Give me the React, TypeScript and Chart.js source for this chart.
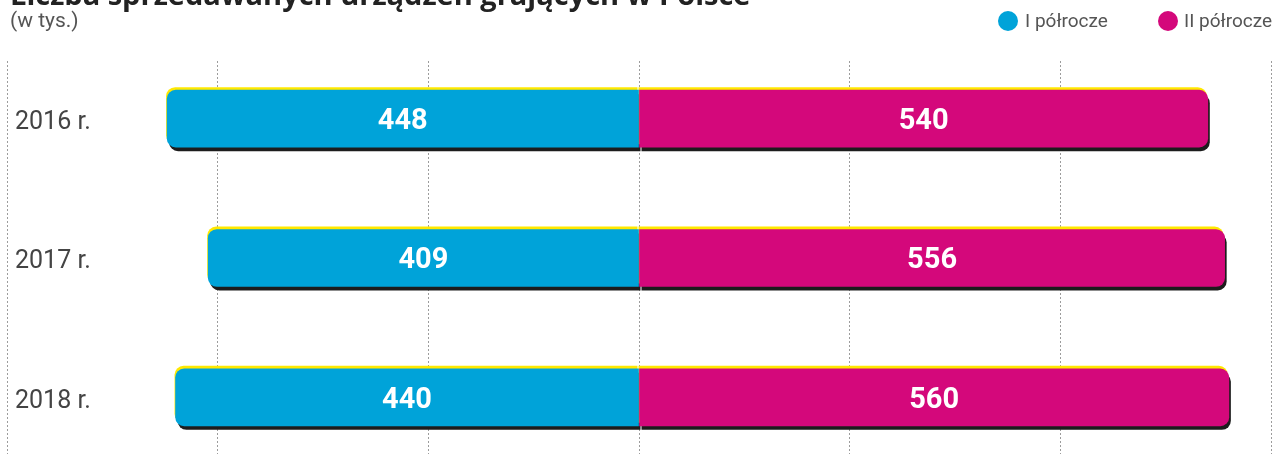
import React, { useEffect, useRef } from "react";
import { Chart, registerables } from "chart.js";

Chart.register(...registerables);

const categories = ["2016 r.", "2017 r.", "2018 r."];
const seriesNames = ["I półrocze", "II półrocze"];
const firstHalf = [448, 409, 440];
const secondHalf = [540, 556, 560];
const xMin = -600;
const xMax = 600;
const xStep = 200;

const BLUE = "#00A3D9";
const MAGENTA = "#D4087B";
const YELLOW = "#FFE800";
const SHADOW = "#1c1c1c";
const FONT = "Roboto, 'Noto Sans', sans-serif";

const edgePlugin = {
  id: "barEdges",
  beforeDatasetsDraw(chart: any) {
    const { ctx, chartArea } = chart;
    ctx.save();
    // gridlines begin a little below the top of the plot
    ctx.fillStyle = "#ffffff";
    ctx.fillRect(chartArea.left - 2, chartArea.top - 1, chartArea.width + 4, 11);
    const boxes: any[] = [];
    chart.data.datasets.forEach((_ds: any, i: number) => {
      const meta = chart.getDatasetMeta(i);
      meta.data.forEach((el: any) => {
        const { x, y, base, height } = el.getProps(["x", "y", "base", "height"], true);
        const left = Math.min(x, base);
        const right = Math.max(x, base);
        const neg = x < base;
        const r = 9;
        boxes.push({
          left,
          w: right - left,
          top: y - height / 2,
          h: height,
          radii: neg ? [r, 0, 0, r] : [0, r, r, 0],
        });
      });
    });
    ctx.fillStyle = SHADOW;
    boxes.forEach((b) => {
      ctx.beginPath();
      ctx.roundRect(b.left + 2, b.top + 4, b.w, b.h, b.radii);
      ctx.fill();
    });
    ctx.fillStyle = YELLOW;
    boxes.forEach((b) => {
      ctx.beginPath();
      ctx.roundRect(b.left - 1, b.top - 3, b.w, b.h, b.radii);
      ctx.fill();
    });
    ctx.restore();
  },
  afterDatasetsDraw(chart: any) {
    const { ctx } = chart;
    ctx.save();
    ctx.fillStyle = "#ffffff";
    ctx.font = `bold 29px ${FONT}`;
    ctx.textAlign = "center";
    ctx.textBaseline = "middle";
    chart.data.datasets.forEach((ds: any, i: number) => {
      const meta = chart.getDatasetMeta(i);
      meta.data.forEach((el: any, j: number) => {
        const { x, y, base } = el.getProps(["x", "y", "base"], true);
        ctx.fillText(String(Math.abs(ds.data[j])), (x + base) / 2, y + 3);
      });
    });
    ctx.restore();
  },
};

export default function App() {
  const ref = useRef<HTMLCanvasElement | null>(null);

  useEffect(() => {
    if (!ref.current) return;
    const chart = new Chart(ref.current, {
      type: "bar",
      data: {
        labels: categories,
        datasets: [
          {
            label: seriesNames[0],
            data: firstHalf.map((v) => -v),
            backgroundColor: BLUE,
            borderSkipped: false,
            borderRadius: { topLeft: 9, bottomLeft: 9, topRight: 0, bottomRight: 0 },
            barThickness: 57,
          },
          {
            label: seriesNames[1],
            data: secondHalf,
            backgroundColor: MAGENTA,
            borderSkipped: false,
            borderRadius: { topLeft: 0, bottomLeft: 0, topRight: 9, bottomRight: 9 },
            barThickness: 57,
          },
        ],
      },
      options: {
        indexAxis: "y",
        animation: false,
        responsive: false,
        layout: { padding: { top: 49, bottom: 3, left: 7, right: 4 } },
        plugins: {
          legend: { display: false },
          tooltip: { enabled: false },
        },
        scales: {
          x: {
            type: "linear",
            stacked: true,
            min: xMin,
            max: xMax,
            ticks: { display: false, stepSize: xStep },
            grid: { color: "#9c9c9c", lineWidth: 1, drawTicks: false },
            border: { display: false, dash: [2, 2] },
            afterFit(scale: any) {
              scale.height = 0;
              scale.paddingLeft = 0;
              scale.paddingRight = 0;
            },
          },
          y: {
            type: "category",
            stacked: true,
            offset: true,
            grid: { display: false, drawTicks: false },
            border: { display: false },
            ticks: {
              mirror: true,
              padding: 8,
              labelOffset: 4,
              color: "#444444",
              font: { family: FONT, size: 25 },
            },
            afterFit(scale: any) {
              scale.width = 0;
              scale.paddingTop = 0;
              scale.paddingBottom = 0;
            },
          },
        },
      },
      plugins: [edgePlugin],
    } as any);
    return () => chart.destroy();
  }, []);

  const legendText: React.CSSProperties = {
    position: "absolute",
    top: 10,
    fontFamily: FONT,
    fontSize: 19,
    lineHeight: "22px",
    color: "#555555",
    whiteSpace: "nowrap",
  };
  const dot = (left: number, color: string): React.CSSProperties => ({
    position: "absolute",
    left,
    top: 11,
    width: 20,
    height: 20,
    borderRadius: "50%",
    background: color,
  });

  return (
    <div
      style={{
        position: "absolute",
        left: 0,
        top: 0,
        width: 1275,
        height: 454,
        overflow: "hidden",
        background: "#ffffff",
      }}
    >
      <canvas ref={ref} width={1275} height={470} style={{ position: "absolute", left: 0, top: 0 }} />
      <div
        style={{
          position: "absolute",
          left: 10,
          top: -21,
          fontFamily: "'Open Sans', Roboto, sans-serif",
          fontWeight: 700,
          fontSize: 29,
          lineHeight: "29px",
          color: "#222222",
          whiteSpace: "nowrap",
        }}
      >
        Liczba sprzedawanych urządzeń grających w Polsce
      </div>
      <div
        style={{
          position: "absolute",
          left: 10,
          top: 7,
          fontFamily: FONT,
          fontSize: 21,
          lineHeight: "26px",
          color: "#555555",
          whiteSpace: "nowrap",
        }}
      >
        (w tys.)
      </div>
      <div style={dot(998, BLUE)} />
      <div style={{ ...legendText, left: 1025 }}>{seriesNames[0]}</div>
      <div style={dot(1158, MAGENTA)} />
      <div style={{ ...legendText, left: 1184 }}>{seriesNames[1]}</div>
    </div>
  );
}
